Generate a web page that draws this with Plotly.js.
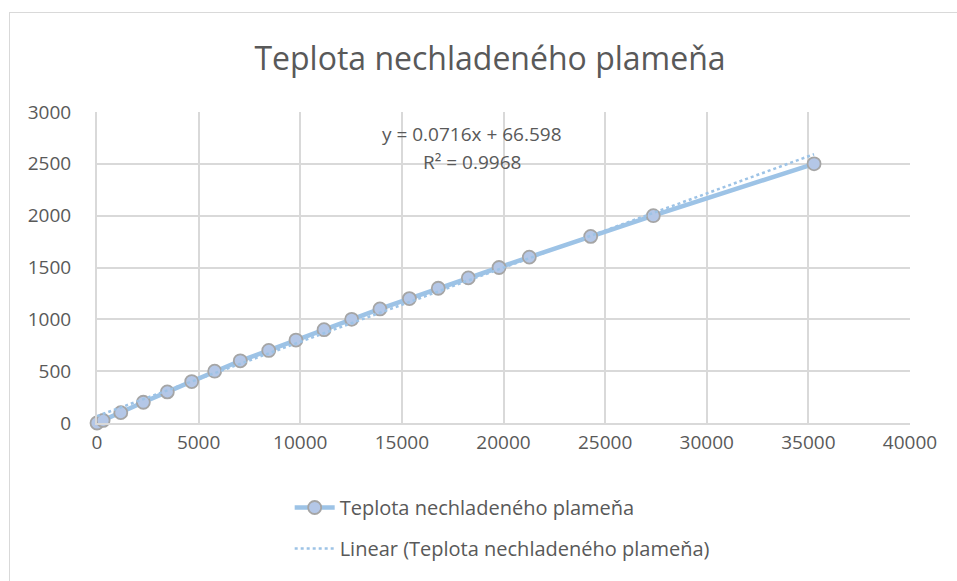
<!DOCTYPE html>
<html>
<head>
<meta charset="utf-8">
<script src="https://cdn.plot.ly/plotly-3.0.1.min.js"></script>
<style>
html,body{margin:0;padding:0;background:#fff;}
#wrap{position:relative;width:957px;height:581px;}
#chart{width:957px;height:581px;}
#frame{position:absolute;left:9px;top:12px;width:1000px;height:700px;border-left:1px solid #d9d9d9;border-top:1px solid #d9d9d9;pointer-events:none;}
</style>
</head>
<body>
<div id="wrap"><div id="chart"></div><div id="frame"></div></div>
<script>
// Data
const seriesName = "Teplota nechladeného plameňa";
const trendName = "Linear (Teplota nechladeného plameňa)";
const xValues = [0, 300, 1170, 2280, 3460, 4660, 5790, 7050, 8450, 9790, 11170, 12530, 13920, 15370, 16790, 18270, 19780, 21270, 24290, 27370, 35280];
const yValues = [0, 25, 100, 200, 300, 400, 500, 600, 700, 800, 900, 1000, 1100, 1200, 1300, 1400, 1500, 1600, 1800, 2000, 2500];
const trendSlope = 0.0716;
const trendIntercept = 66.598;
const equationLabel = "y = 0.0716x + 66.598";
const r2Label = "R² = 0.9968";
const xTicks = [0, 5000, 10000, 15000, 20000, 25000, 30000, 35000, 40000];
const yTicks = [0, 500, 1000, 1500, 2000, 2500, 3000];

const xMin = Math.min(...xValues), xMax = Math.max(...xValues);
const trendX = [xMin, xMax];
const trendY = trendX.map(v => trendSlope * v + trendIntercept);

const font = "Open Sans, Noto Sans, sans-serif";
const grey = "#595959";

const traces = [
  {
    x: xValues, y: yValues, name: seriesName, type: "scatter", mode: "lines+markers",
    legendgroup: "a", cliponaxis: false,
    line: {color: "#9dc3e6", width: 4.5},
    marker: {size: 13, color: "#b4c7e7", line: {color: "#a5a5a5", width: 1.8}}
  },
  {
    x: trendX, y: trendY, name: trendName, type: "scatter", mode: "lines",
    legendgroup: "b", cliponaxis: false,
    line: {color: "#9dc3e6", width: 2.5, dash: "dot"}
  }
];

const layout = {
  width: 957, height: 581,
  margin: {l: 97, r: 47, t: 112, b: 158, pad: 0},
  paper_bgcolor: "#ffffff", plot_bgcolor: "#ffffff",
  title: {text: seriesName, x: 0.512, xanchor: "center", y: 0.898, yanchor: "middle",
          font: {family: font, size: 32, color: grey}},
  xaxis: {range: [0, 40000], tickvals: xTicks, ticktext: xTicks.map(String),
          showgrid: true, gridcolor: "#d9d9d9", gridwidth: 2, zeroline: false,
          showline: true, linecolor: "#d9d9d9", linewidth: 2, ticks: "outside", ticklen: 1, tickcolor: "rgba(0,0,0,0)",
          tickfont: {family: font, size: 19, color: grey}, fixedrange: true},
  yaxis: {range: [0, 3000], tickvals: yTicks, ticktext: yTicks.map(String),
          showgrid: true, gridcolor: "#d9d9d9", gridwidth: 2, zeroline: false,
          showline: true, linecolor: "#d9d9d9", linewidth: 2, ticks: "outside", ticklen: 20, tickcolor: "rgba(0,0,0,0)",
          tickfont: {family: font, size: 19, color: grey}, fixedrange: true},
  showlegend: true,
  legend: {x: 0.237, y: -0.209, xanchor: "left", yanchor: "top", orientation: "v",
           font: {family: font, size: 20, color: grey}, tracegroupgap: 12, itemwidth: 40,
           bgcolor: "rgba(0,0,0,0)"},
  annotations: [
    {x: 18450, y: 2788, xref: "x", yref: "y", text: equationLabel, showarrow: false,
     xanchor: "center", yanchor: "middle", font: {family: font, size: 19, color: grey}},
    {x: 18450, y: 2518, xref: "x", yref: "y", text: r2Label, showarrow: false,
     xanchor: "center", yanchor: "middle", font: {family: font, size: 19, color: grey}}
  ]
};

Plotly.newPlot("chart", traces, layout, {displayModeBar: false, staticPlot: true});
</script>
</body>
</html>
